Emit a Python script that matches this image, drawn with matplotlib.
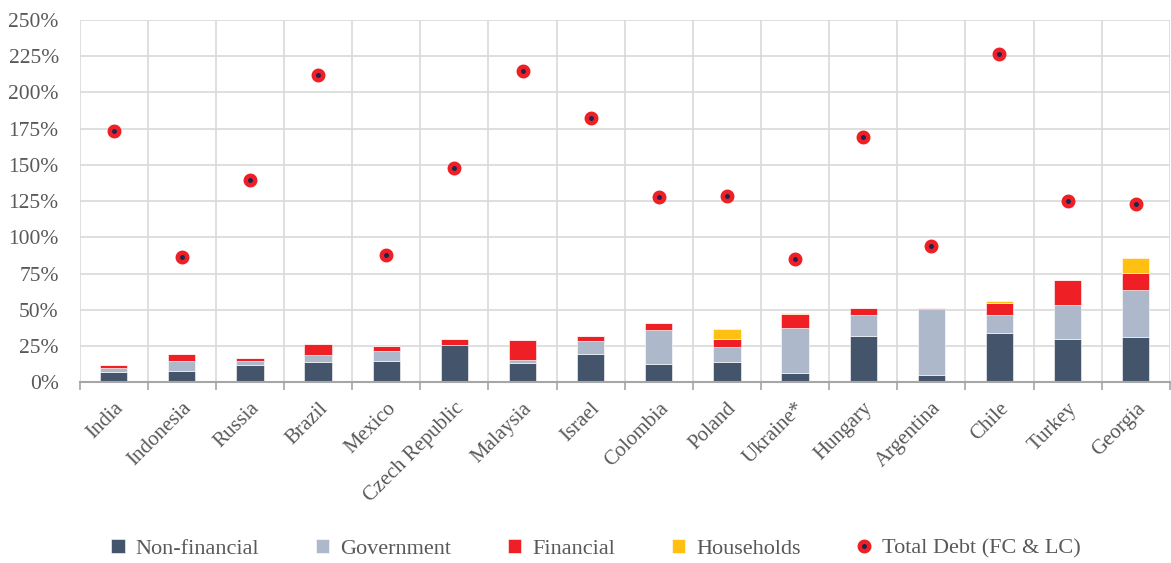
import numpy as np
import matplotlib
matplotlib.use("Agg")
import matplotlib.pyplot as plt
from matplotlib.ticker import FuncFormatter, FixedLocator

countries = ["India", "Indonesia", "Russia", "Brazil", "Mexico", "Czech Republic",
             "Malaysia", "Israel", "Colombia", "Poland", "Ukraine*", "Hungary",
             "Argentina", "Chile", "Turkey", "Georgia"]

non_financial = [7.1, 8.1, 11.6, 14.1, 14.8, 25.4, 13.0, 19.2, 12.3, 13.7, 6.1, 32.2, 4.7, 34.3, 30.2, 31.5]
government = [2.7, 6.9, 3.0, 4.6, 7.1, 0.0, 2.3, 9.2, 24.1, 10.5, 31.2, 14.3, 46.1, 12.4, 23.0, 32.4]
financial = [1.9, 4.4, 2.1, 7.6, 2.8, 4.3, 14.2, 3.4, 4.4, 6.0, 10.1, 5.0, 0.7, 7.8, 17.6, 11.7]
households = [0.0, 0.4, 0.0, 0.0, 0.0, 0.0, 0.0, 0.0, 0.0, 6.6, 0.3, 0.0, 0.0, 1.6, 0.0, 10.1]
total_debt = [173.1, 86.4, 139.9, 211.8, 87.6, 147.7, 215.0, 182.4, 128.0, 128.7, 84.8,
              169.3, 93.8, 226.7, 125.0, 123.1]

c_nf = "#44546A"
c_gov = "#ADB9CA"
c_fin = "#EE1F25"
c_hh = "#FFC012"
c_txt = "#595959"
c_grid = "#D9D9D9"

plt.rcParams["font.family"] = ["Liberation Serif", "DejaVu Serif"]

fig = plt.figure(figsize=(11.71, 5.63), dpi=100)
ax = fig.add_axes([0.068, 0.321, 0.931, 0.6435])

x = np.arange(len(countries))
w = 0.4
nf = np.array(non_financial)
gv = np.array(government)
fn = np.array(financial)
hh = np.array(households)

b1 = ax.bar(x, nf, w, color=c_nf, edgecolor="white", linewidth=0.4, label="Non-financial", zorder=3)
b2 = ax.bar(x, gv, w, bottom=nf, color=c_gov, edgecolor="white", linewidth=0.4, label="Government", zorder=3)
b3 = ax.bar(x, fn, w, bottom=nf + gv, color=c_fin, edgecolor="white", linewidth=0.4, label="Financial", zorder=3)
b4 = ax.bar(x, hh, w, bottom=nf + gv + fn, color=c_hh, edgecolor="white", linewidth=0.4, label="Households", zorder=3)
dots, = ax.plot(x, total_debt, linestyle="none", marker="o", markersize=6.8, markerfacecolor="#1F2550",
                markeredgecolor=c_fin, markeredgewidth=3.2, label="Total Debt (FC & LC)", zorder=4)

ax.set_xlim(-0.5, len(countries) - 0.5)
ax.set_ylim(0, 250)
ax.set_yticks(np.arange(0, 251, 25))
ax.yaxis.set_major_formatter(FuncFormatter(lambda v, p: f"{int(v)}%"))
ax.grid(axis="y", color=c_grid, linewidth=1.2, zorder=0)

ax.set_xticks(x)
ax.set_xticklabels(countries, rotation=45, ha="right", rotation_mode="anchor")
ax.xaxis.set_minor_locator(FixedLocator(np.arange(-0.5, len(countries), 1)))
ax.grid(axis="x", which="minor", color=c_grid, linewidth=1.2, zorder=0)
ax.tick_params(axis="x", which="major", length=0, pad=12, labelsize=15, labelcolor=c_txt)
ax.tick_params(axis="x", which="minor", length=6, color="#A6A6A6", width=1.2)
ax.tick_params(axis="y", length=0, pad=15, labelsize=15.5, labelcolor=c_txt)

for s in ["top", "right", "left"]:
    ax.spines[s].set_visible(False)
ax.spines["bottom"].set_color("#A6A6A6")
ax.spines["bottom"].set_linewidth(1.5)
ax.spines["bottom"].set_zorder(5)

fig.legend(handles=[b1, b2, b3, b4, dots], loc="center", bbox_to_anchor=(0.509, 0.025), ncol=5,
           frameon=False, fontsize=16, handlelength=0.6, handleheight=0.6, handletextpad=0.5,
           columnspacing=2.55, labelcolor=c_txt)

fig.savefig("out.png", dpi=100)
